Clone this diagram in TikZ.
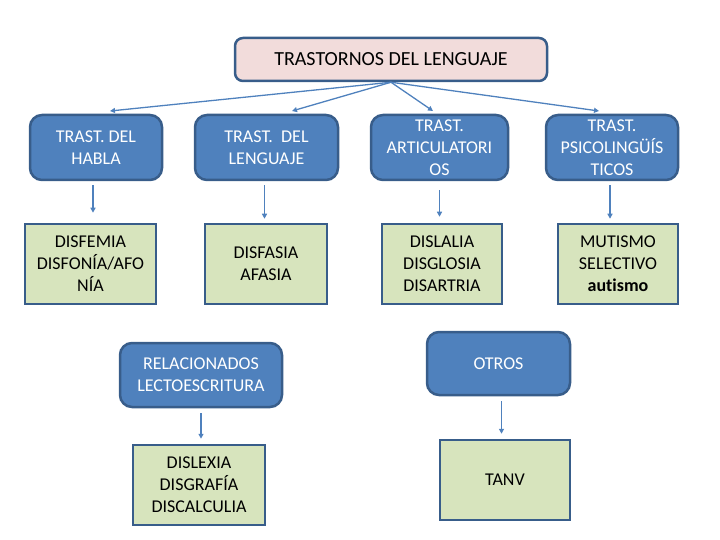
\documentclass[tikz,border=0pt]{standalone}
\usepackage{fontspec}
\setmainfont{Carlito}[Ligatures=NoCommon]
\usetikzlibrary{arrows.meta}
\definecolor{bluefill}{HTML}{4F81BD}
\definecolor{blueline}{HTML}{385D8A}
\definecolor{greenfill}{HTML}{D7E4BD}
\definecolor{pinkfill}{HTML}{F2DCDB}
\definecolor{arrowcol}{HTML}{4F81BD}
\tikzset{
  every node/.style={font=\fontsize{18}{22}\selectfont, align=center, inner sep=0pt},
  bluebox/.style={draw=blueline, line width=2.5pt, fill=bluefill, rounded corners=12pt, text=white},
  greenbox/.style={draw=blueline, line width=2.5pt, fill=greenfill, text=black},
  topbox/.style={draw=blueline, line width=2.5pt, fill=pinkfill, rounded corners=8pt, text=black, font=\fontsize{20}{24}\selectfont},
  conn/.style={draw=arrowcol, line width=1.3pt, -{Triangle[length=5pt,width=5pt]}}
}
\begin{document}
\begin{tikzpicture}[x=1pt,y=-1pt]
\useasboundingbox (0,0) rectangle (720,540);
% top
\node[topbox, minimum width=312, minimum height=43] (top) at (391,59.5) {TRASTORNOS DEL LENGUAJE};
% row 1
\node[bluebox, minimum width=132, minimum height=65] (habla) at (96,147.5) {TRAST. DEL\\HABLA};
\node[bluebox, minimum width=143, minimum height=65] (leng) at (266.5,147.5) {TRAST.\ \ DEL\\LENGUAJE};
\node[bluebox, minimum width=137, minimum height=65] (artic) at (439.5,147.5) {TRAST.\\ARTICULATORI\\OS};
\node[bluebox, minimum width=132, minimum height=65] (psico) at (612,147.5) {TRAST.\\PSICOLINGÜÍS\\TICOS};
% row 2
\node[greenbox, minimum width=131, minimum height=80] (disfemia) at (90.5,264) {DISFEMIA\\DISFONÍA/AFO\\NÍA};
\node[greenbox, minimum width=122, minimum height=80] (disfasia) at (266,264) {DISFASIA\\AFASIA};
\node[greenbox, minimum width=120, minimum height=80] (dislalia) at (442,264) {DISLALIA\\DISGLOSIA\\DISARTRIA};
\node[greenbox, minimum width=120, minimum height=80] (mutismo) at (618,264) {MUTISMO\\SELECTIVO\\\textbf{autismo}};
% row 3
\node[bluebox, minimum width=162, minimum height=64] (relac) at (201,375) {RELACIONADOS\\LECTOESCRITURA};
\node[bluebox, minimum width=143, minimum height=63] (otros) at (498.5,363.5) {OTROS};
\node[greenbox, minimum width=132, minimum height=80] (dislexia) at (199,485) {DISLEXIA\\DISGRAFÍA\\DISCALCULIA};
\node[greenbox, minimum width=130, minimum height=80] (tanv) at (505,480) {TANV};
% top connectors
\coordinate (e1) at (110,111);
\coordinate (e2) at (292,111);
\coordinate (e3) at (433,111);
\coordinate (e4) at (599,111);
\draw[conn] (top.south) -- (e1);
\draw[conn] (top.south) -- (e2);
\draw[conn] (top.south) -- (e3);
\draw[conn] (top.south) -- (e4);
% vertical connectors
\draw[conn, shorten <=4pt, shorten >=10pt] ([xshift=-3pt]habla.south) -- ([xshift=-3pt]habla.south |- disfemia.north);
\draw[conn, shorten <=4pt, shorten >=4pt] ([xshift=-2pt]leng.south) -- ([xshift=-2pt]leng.south |- disfasia.north);
\draw[conn, shorten <=9pt, shorten >=6pt] (artic.south) -- (artic.south |- dislalia.north);
\draw[conn, shorten <=4pt, shorten >=4pt] ([xshift=-2pt]psico.south) -- ([xshift=-2pt]psico.south |- mutismo.north);
\draw[conn, shorten <=5pt, shorten >=5pt] (relac.south) -- (relac.south |- dislexia.north);
\draw[conn, shorten <=5pt, shorten >=5pt] ([xshift=3pt]otros.south) -- ([xshift=3pt]otros.south |- tanv.north);
\end{tikzpicture}
\end{document}
